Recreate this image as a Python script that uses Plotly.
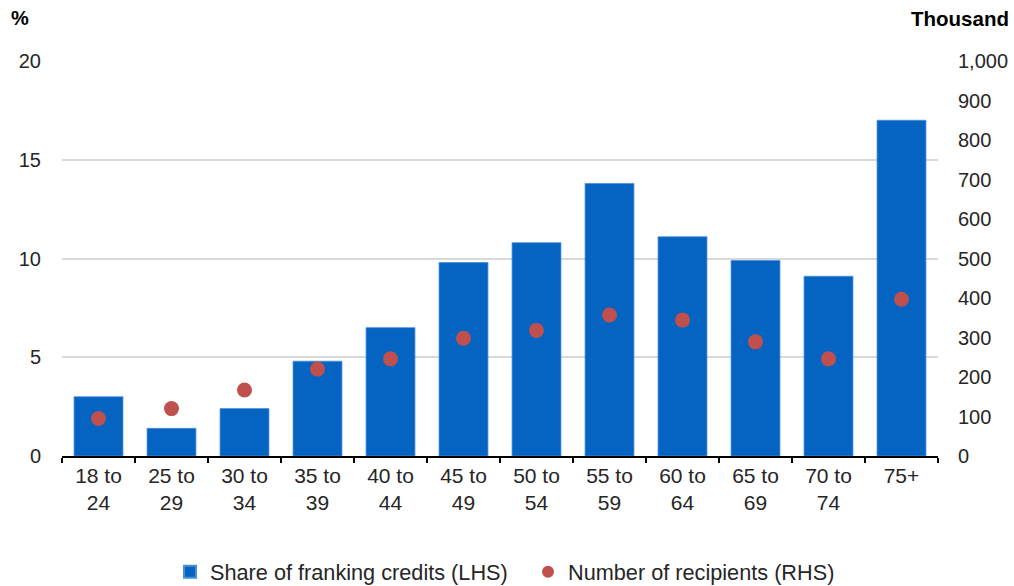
import plotly.graph_objects as go

# Age groups and the two series
age_groups = ["18 to<br>24", "25 to<br>29", "30 to<br>34", "35 to<br>39", "40 to<br>44",
              "45 to<br>49", "50 to<br>54", "55 to<br>59", "60 to<br>64", "65 to<br>69",
              "70 to<br>74", "75+"]
share_pct = [3.0, 1.4, 2.4, 4.8, 6.5, 9.8, 10.8, 13.8, 11.1, 9.9, 9.1, 17.0]
recipients_thousand = [95, 120, 167, 220, 246, 298, 318, 357, 344, 289, 246, 397]

left_ticks = [0, 5, 10, 15, 20]
right_ticks = [0, 100, 200, 300, 400, 500, 600, 700, 800, 900, 1000]
right_tick_text = ["0", "100", "200", "300", "400", "500", "600", "700", "800", "900", "1,000"]

FONT = "Liberation Sans, Arial, sans-serif"
BLUE = "#0563C1"
RED = "#C0504D"
TEXT = "#262626"

fig = go.Figure()
fig.add_trace(go.Bar(
    x=age_groups, y=share_pct, name="Share of franking credits (LHS)",
    marker=dict(color=BLUE, line=dict(color="#4A8FDA", width=0.8)),
    yaxis="y",
))
fig.add_trace(go.Scatter(
    x=age_groups, y=recipients_thousand, name="Number of recipients (RHS)",
    mode="markers", marker=dict(color=RED, size=15, line=dict(width=0)),
    yaxis="y2",
))

fig.update_layout(
    width=1014, height=586,
    margin=dict(l=62, r=76, t=61, b=130, autoexpand=False),
    paper_bgcolor="white", plot_bgcolor="white",
    font=dict(family=FONT, size=20, color=TEXT),
    bargap=0.33,
    showlegend=True,
    legend=dict(orientation="h", x=0.1233, xanchor="left", y=-0.294, yanchor="middle",
                font=dict(size=21.7, color=TEXT), entrywidth=313, entrywidthmode="pixels",
                traceorder="normal", itemsizing="constant"),
    xaxis=dict(
        type="category", range=[-0.5, 11.5], automargin=False,
        showgrid=False, showline=True, linecolor="black", linewidth=1.5,
        ticks="outside", tickson="boundaries", ticklen=5, tickcolor="black", tickwidth=1.5,
        tickfont=dict(size=21, color=TEXT),
    ),
    yaxis=dict(
        range=[0, 20], tickvals=left_ticks, automargin=False,
        showgrid=True, gridcolor="#d9d9d9", gridwidth=1.5,
        zeroline=False, showline=False, ticks="", ticklabelstandoff=20,
        tickfont=dict(size=20, color=TEXT),
    ),
    yaxis2=dict(
        range=[0, 1000], tickvals=right_ticks, ticktext=right_tick_text, overlaying="y",
        side="right", automargin=False, showgrid=False, zeroline=False, showline=False,
        ticks="", ticklabelstandoff=19, tickfont=dict(size=20, color=TEXT),
    ),
    annotations=[
        dict(text="<b>%</b>", xref="paper", yref="paper", x=-0.06, y=1.108,
             xanchor="left", yanchor="middle", showarrow=False,
             font=dict(size=20, color="black")),
        dict(text="<b>Thousand</b>", xref="paper", yref="paper", x=1.083, y=1.108,
             xanchor="right", yanchor="middle", showarrow=False,
             font=dict(size=20.5, color="black")),
    ],
)

fig.write_html("out.html")
